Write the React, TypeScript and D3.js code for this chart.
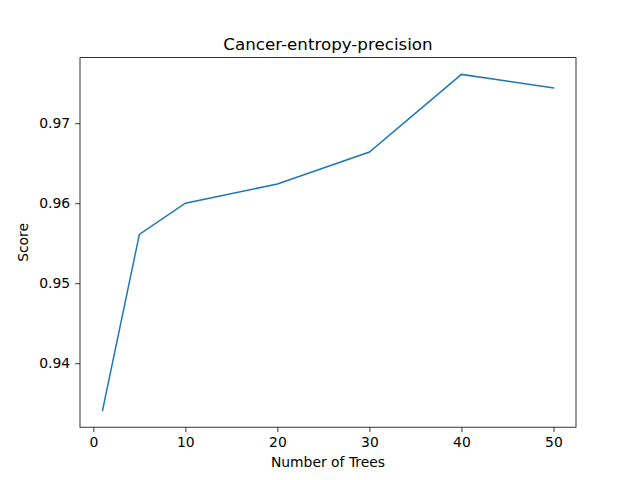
import React, { useRef, useEffect } from 'react';
import * as d3 from 'd3';

const trees = [1, 5, 10, 20, 30, 40, 50];
const scores = [0.9341, 0.9561, 0.96, 0.9624, 0.9664, 0.9761, 0.9744];
const xTicks = [0, 10, 20, 30, 40, 50];
const yTicks = [0.94, 0.95, 0.96, 0.97];

const App: React.FC = () => {
  const svgRef = useRef<SVGSVGElement | null>(null);

  useEffect(() => {
    const svg = d3.select(svgRef.current);
    svg.selectAll('*').remove();

    const margin = { top: 57.6, right: 64, bottom: 52.8, left: 80 };
    const width = 640 - margin.left - margin.right;
    const height = 480 - margin.top - margin.bottom;

    const [x0, x1] = d3.extent(trees) as [number, number];
    const [y0, y1] = d3.extent(scores) as [number, number];
    const xp = (x1 - x0) * 0.05;
    const yp = (y1 - y0) * 0.05;

    const x = d3.scaleLinear().domain([x0 - xp, x1 + xp]).range([0, width]);
    const y = d3.scaleLinear().domain([y0 - yp, y1 + yp]).range([height, 0]);

    const g = svg.append('g')
      .attr('transform', `translate(${margin.left},${margin.top})`)
      .style('font-family', 'DejaVu Sans');

    const line = d3.line<number>()
      .x((_, i) => x(trees[i]))
      .y(d => y(d));

    g.append('path')
      .datum(scores)
      .attr('fill', 'none')
      .attr('stroke', '#1f77b4')
      .attr('stroke-width', 1.5)
      .attr('stroke-linecap', 'square')
      .attr('d', line);

    const xAxis = g.append('g')
      .attr('transform', `translate(0,${height})`)
      .call(d3.axisBottom(x).tickValues(xTicks).tickSize(4.9).tickPadding(4.9).tickFormat(d3.format('d')));
    const yAxis = g.append('g')
      .call(d3.axisLeft(y).tickValues(yTicks).tickSize(4.9).tickPadding(4.9).tickFormat(d3.format('.2f')));

    [xAxis, yAxis].forEach(a => {
      a.select('.domain').remove();
      a.selectAll('text').style('font-size', '13.9px').style('font-family', 'DejaVu Sans').attr('fill', '#000');
      a.selectAll('line').attr('stroke', '#000').attr('stroke-width', 0.8);
    });

    g.append('rect')
      .attr('width', width)
      .attr('height', height)
      .attr('fill', 'none')
      .attr('stroke', '#000')
      .attr('stroke-width', 0.8);

    g.append('text')
      .attr('x', width / 2)
      .attr('y', -8)
      .attr('text-anchor', 'middle')
      .style('font-size', '16.7px')
      .text('Cancer-entropy-precision');

    g.append('text')
      .attr('x', width / 2)
      .attr('y', height + 40)
      .attr('text-anchor', 'middle')
      .style('font-size', '13.9px')
      .text('Number of Trees');

    g.append('text')
      .attr('transform', `translate(-52,${height / 2}) rotate(-90)`)
      .attr('text-anchor', 'middle')
      .style('font-size', '13.9px')
      .text('Score');
  }, []);

  return (
    <svg
      ref={svgRef}
      width={640}
      height={480}
      style={{ position: 'absolute', left: 0, top: 0, background: 'white' }}
    />
  );
};

export default App;
